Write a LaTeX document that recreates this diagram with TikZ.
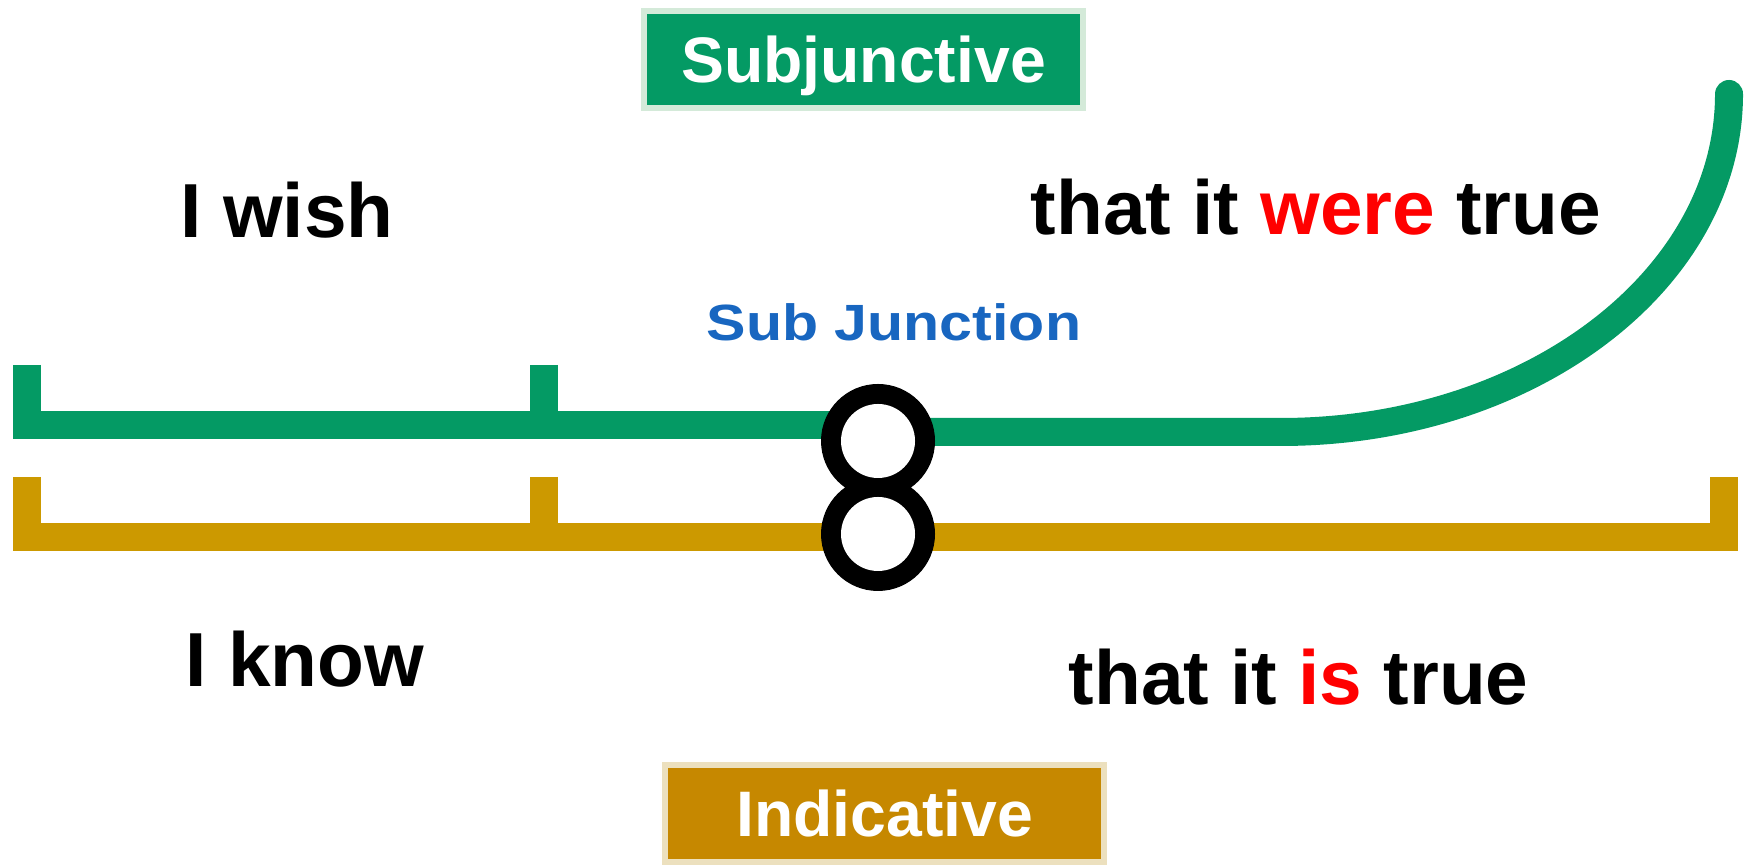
\documentclass[tikz,border=0pt]{standalone}
\usepackage{fontspec}
\setmainfont{Liberation Sans}
\usetikzlibrary{shapes,positioning}

\definecolor{subgreen}{RGB}{4,154,100}
\definecolor{indgold}{RGB}{204,153,0}
\definecolor{indbox}{RGB}{198,136,0}
\definecolor{subedge}{RGB}{212,234,217}
\definecolor{indedge}{RGB}{236,224,190}
\definecolor{junctblue}{RGB}{24,102,192}

\begin{document}
\begin{tikzpicture}[
  subline/.style={subgreen, line width=0.28cm},
  indline/.style={indgold, line width=0.28cm},
  tagbox/.style={minimum width=4.39cm, minimum height=0.97cm, line width=0.06cm, text=white,
    font=\fontsize{18.3}{18.3}\selectfont\bfseries, text height=13.1pt, text depth=0pt},
  phrase/.style={anchor=base west, inner sep=0pt, font=\fontsize{21.8}{22}\selectfont\bfseries}
]
\useasboundingbox (0,0) rectangle (17.47,8.67);

% Centri delle fermate
\coordinate (jsub) at (8.78,4.26);
\coordinate (jind) at (8.78,3.33);

% Linea verde
\draw[subline] (0.27,5.02) -- (0.27,4.42) -- (jsub |- 0,4.42);
\draw[subline, line cap=round] (jsub |- 0,4.35) -- (12.81,4.35)
  arc[start angle=-90, end angle=0, x radius=4.48cm, y radius=3.38cm];

% Linea gialla
\draw[indline] (0.27,3.90) -- (0.27,3.30) -- (17.24,3.30) -- (17.24,3.90);

% Tacche
\foreach \x in {5.44}
  \draw[subline] (\x,5.02) -- (\x,4.42);
\foreach \x in {5.44}
  \draw[indline] (\x,3.90) -- (\x,3.30);

% Fermate
\fill[black] (jsub) circle (0.57cm) (jind) circle (0.57cm);
\fill[white] (jsub) circle (0.37cm) (jind) circle (0.37cm);

% Etichette
\node[tagbox, fill=subgreen, draw=subedge] (subj) at (8.635,8.07) {Subjunctive};
\node[tagbox, fill=indbox, draw=indedge] (indic) at (8.845,0.535) {Indicative};
\node[anchor=base west, inner sep=0pt, text=junctblue, font=\fontsize{14.5}{15}\selectfont\bfseries,
  xscale=1.16, transform shape] (junct) at (7.06,5.26) {Sub Junction};

\node[phrase] (wish) at (1.80,6.29) {I wish};
\node[phrase] (were) at (10.30,6.32) {that it \textcolor{red}{were} true};
\node[phrase] (know) at (1.85,1.80) {I know};
\node[phrase] (is) at (10.68,1.62) {that it \textcolor{red}{is} true};
\end{tikzpicture}
\end{document}
